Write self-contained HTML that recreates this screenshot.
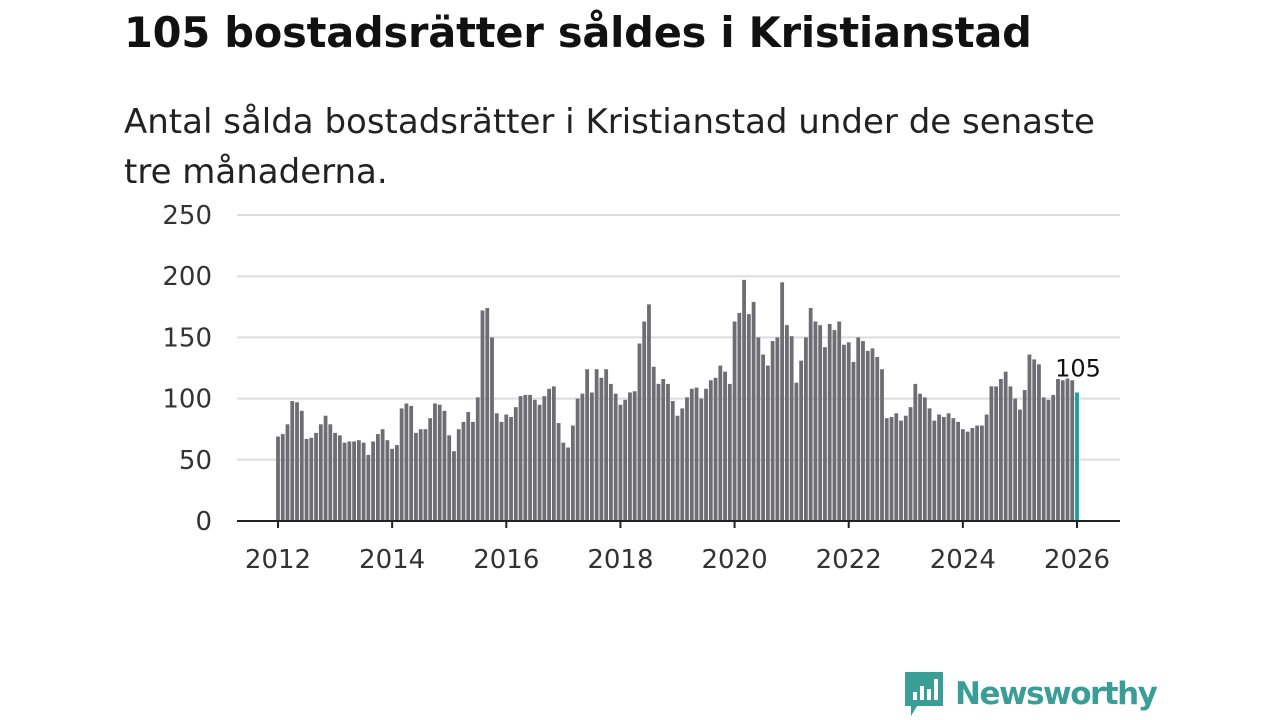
<!DOCTYPE html>
<html><head><meta charset="utf-8"><style>
body{margin:0;width:1280px;height:720px;background:#fff;font-family:"Liberation Sans","DejaVu Sans",sans-serif;overflow:hidden;position:relative}
h1{position:absolute;left:124px;top:8px;margin:0;font-size:41.5px;font-weight:bold;color:#111;font-family:"DejaVu Sans",sans-serif;letter-spacing:-0.2px}
.sub{position:absolute;left:124px;top:97px;width:990px;font-size:34px;line-height:50px;color:#222;font-family:"DejaVu Sans",sans-serif}
</style></head><body>
<h1>105 bostadsrätter såldes i Kristianstad</h1>
<div class="sub">Antal sålda bostadsrätter i Kristianstad under de senaste tre månaderna.</div>
<svg id="c" width="1280" height="720" style="position:absolute;left:0;top:0"></svg>
<div style="position:absolute;left:903px;top:670px;display:flex;align-items:center">
<svg width="42" height="48"><path d="M2 2h38v34H14l-6 10v-10H2z" fill="#3a9e96"/><rect x="10" y="22" width="4" height="8" fill="#fff"/><rect x="17" y="16" width="4" height="14" fill="#fff"/><rect x="24" y="19" width="4" height="11" fill="#fff"/><rect x="31" y="9" width="4" height="21" fill="#fff"/></svg>
<span style="font-size:31px;color:#3a9e96;font-family:'DejaVu Sans',sans-serif;margin-left:10px;font-weight:bold;letter-spacing:-1.5px">Newsworthy</span></div>
<script>
const yTicks=[0,50,100,150,200,250];
const xTicks=[2012,2014,2016,2018,2020,2022,2024,2026];
const values=[
69,71,79,98,97,90,67,68,72,79,86,79,
72,70,64,65,65,66,64,54,65,71,75,66,
59,62,92,96,94,72,75,75,84,96,95,90,
70,57,75,81,89,81,101,172,174,150,88,81,
87,85,93,102,103,103,99,95,102,108,110,80,
64,60,78,100,104,124,105,124,117,124,112,104,
95,99,105,106,145,163,177,126,112,116,112,98,
86,92,101,108,109,100,108,115,117,127,122,112,
163,170,197,169,179,150,136,127,147,150,195,160,
151,113,131,150,174,163,160,142,161,156,163,144,
146,130,150,147,139,141,134,124,84,85,88,82,
86,93,112,104,101,92,82,87,85,88,84,81,
75,73,76,78,78,87,110,110,116,122,110,100,
91,107,136,132,128,101,99,103,116,115,117,115,
105];
const startYear=2012;
const svg=document.getElementById('c');const NS='http://www.w3.org/2000/svg';
const y=v=>521-v*306/250;
const x=t=>278+(t-2012)*799/14;
function mk(tag,attrs){const e=document.createElementNS(NS,tag);for(const k in attrs)e.setAttribute(k,attrs[k]);svg.appendChild(e);return e;}
yTicks.forEach(t=>{
 if(t>0){const g=mk('line',{x1:237,x2:1120,y1:y(t),y2:y(t),stroke:'#ddd','stroke-width':2});
 
 }
 const l=mk('text',{x:212,y:y(t)+9,'text-anchor':'end','font-size':26,fill:'#333','font-family':'DejaVu Sans,sans-serif'});l.textContent=t;
 
 
});
values.forEach((v,i)=>{
 const last=i===values.length-1;
 const r=mk('rect',{x:x(startYear+i/12)-1.9,y:y(v),width:3.8,height:521-y(v),fill:last?'#1a9e96':'#6e6d73'});
 
 
});
const ax=mk('line',{x1:237,x2:1120,y1:521,y2:521,stroke:'#222','stroke-width':2});


xTicks.forEach(t=>{
 const tk=mk('line',{x1:x(t),x2:x(t),y1:521,y2:528,stroke:'#222','stroke-width':2});
 
 
 const l=mk('text',{x:x(t),y:568,'text-anchor':'middle','font-size':26,fill:'#333','font-family':'DejaVu Sans,sans-serif'});l.textContent=t;
 
 
});
const lv=values[values.length-1];
const lab=mk('text',{x:x(startYear+(values.length-1)/12)+1,y:y(lv)-16,'text-anchor':'middle','font-size':24,fill:'#111','font-family':'DejaVu Sans,sans-serif',stroke:'#fff','stroke-width':4,'paint-order':'stroke'});lab.textContent=lv;


</script>
</body></html>
